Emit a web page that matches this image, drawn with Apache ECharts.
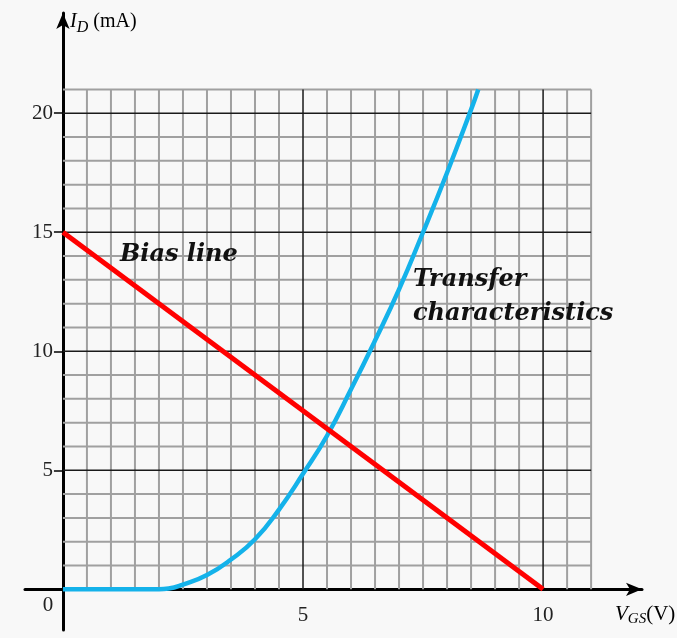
<!DOCTYPE html>
<html>
<head>
<meta charset="utf-8">
<script src="https://cdn.jsdelivr.net/npm/echarts@6/dist/echarts.min.js"></script>
<style>
html,body{margin:0;padding:0;background:#f8f8f8;}
#c{width:677px;height:638px;}
</style>
</head>
<body>
<div id="c"></div>
<script>
// ---- data ----
const transferX = [0, 1, 2, 2.2, 2.5, 3, 3.5, 4, 4.5, 5, 5.5, 6, 6.5, 7, 7.5, 8, 8.5, 8.65];
const transferY = [0, 0, 0, 0.03, 0.2, 0.6, 1.25, 2.1, 3.35, 4.85, 6.45, 8.4, 10.45, 12.6, 15.0, 17.5, 20.15, 21.0];
const biasX = [0, 10];
const biasY = [15, 0];
const xTickLabels = [5, 10];
const yTickLabels = [5, 10, 15, 20];
const originLabel = '0';
const gridMinorX = [0.5, 1, 1.5, 2, 2.5, 3, 3.5, 4, 4.5, 5.5, 6, 6.5, 7, 7.5, 8, 8.5, 9, 9.5, 10.5, 11];
const gridMinorY = [1, 2, 3, 4, 6, 7, 8, 9, 11, 12, 13, 14, 16, 17, 18, 19, 21];
const gridMajorX = [5, 10];
const gridMajorY = [5, 10, 15, 20];
const gridXMax = 11;
const gridYMax = 21;

const gridLines = [];
gridMinorX.forEach(v => gridLines.push([v, 0, v, gridYMax, 0]));
gridMinorY.forEach(v => gridLines.push([0, v, gridXMax, v, 0]));
gridMajorX.forEach(v => gridLines.push([v, 0, v, gridYMax, 1]));
gridMajorY.forEach(v => gridLines.push([0, v, gridXMax, v, 1]));

// tick label items: [x, y, kind] kind 0 = x-axis label, 1 = y-axis label, 2 = origin
const tickItems = [];
xTickLabels.forEach(v => tickItems.push([v, 0, 0, String(v)]));
yTickLabels.forEach(v => tickItems.push([0, v, 1, String(v)]));
tickItems.push([0, 0, 2, originLabel]);

const chart = echarts.init(document.getElementById('c'));
const serif = 'Liberation Serif';
const tickFont = '21px "Liberation Serif"';
const annFont = 'italic bold 24px "DejaVu Serif"';
const option = {
  backgroundColor: '#f8f8f8',
  animation: false,
  grid: {left: 25, right: 35, top: 13, bottom: 8, containLabel: false, outerBoundsMode: 'none'},
  xAxis: {
    type: 'value', min: -0.79, max: 12.06,
    axisLine: {onZero: true, symbol: ['none', 'arrow'], symbolSize: [10, 16], lineStyle: {color: '#000', width: 3}},
    axisTick: {show: false},
    splitLine: {show: false},
    axisLabel: {show: false}
  },
  yAxis: {
    type: 'value', min: -1.71, max: 24.21,
    axisLine: {onZero: true, symbol: ['none', 'arrow'], symbolSize: [10, 16], lineStyle: {color: '#000', width: 3}},
    axisTick: {show: true, customValues: yTickLabels, length: 9, lineStyle: {color: '#000', width: 1.5}},
    splitLine: {show: false},
    axisLabel: {show: false}
  },
  series: [
    {
      type: 'custom', z: 1, silent: true, clip: false,
      data: gridLines,
      encode: {x: [0, 2], y: [1, 3]},
      renderItem: function (params, api) {
        const p1 = api.coord([api.value(0), api.value(1)]);
        const p2 = api.coord([api.value(2), api.value(3)]);
        const major = api.value(4) === 1;
        return {
          type: 'line',
          shape: {x1: p1[0], y1: p1[1], x2: p2[0], y2: p2[1]},
          style: {stroke: major ? '#1a1a1a' : '#a0a0a0', lineWidth: major ? 1.5 : 2}
        };
      }
    },
    {
      type: 'custom', z: 5, silent: true, clip: false,
      data: tickItems,
      encode: {x: 0, y: 1},
      renderItem: function (params, api) {
        const p = api.coord([api.value(0), api.value(1)]);
        const kind = api.value(2);
        const txt = tickItems[params.dataIndex][3];
        let x = p[0], y = p[1], align = 'center';
        if (kind === 0) { y = p[1] + 26; }
        else if (kind === 1) { x = p[0] - 10; align = 'right'; }
        else { x = p[0] - 15; y = p[1] + 16; }
        return {
          type: 'text', x: x, y: y,
          style: {text: txt, font: tickFont, fill: '#222', align: align, verticalAlign: 'middle'}
        };
      }
    },
    {
      type: 'line', z: 3, name: 'Transfer characteristics',
      data: transferX.map((x, i) => [x, transferY[i]]),
      smooth: 0.5,
      showSymbol: false, symbol: 'none',
      lineStyle: {color: '#14b2ea', width: 4.5}
    },
    {
      type: 'line', z: 4, name: 'Bias line',
      data: biasX.map((x, i) => [x, biasY[i]]),
      showSymbol: false, symbol: 'none',
      lineStyle: {color: '#ff0000', width: 5}
    }
  ],
  graphic: [
    {type: 'text', left: 120, top: 243, z: 10, style: {text: 'Bias line', font: annFont, fill: '#111', lineWidth: 0}},
    {type: 'text', left: 413, top: 268, z: 10, style: {text: 'Transfer', font: annFont, fill: '#111', lineWidth: 0}},
    {type: 'text', left: 413, top: 302, z: 10, style: {text: 'characteristics', font: annFont, fill: '#111', lineWidth: 0}},
    {type: 'text', left: 70, top: 12, style: {
      text: '{i|I}{s|D}{n| (mA)}',
      rich: {
        i: {fontFamily: serif, fontStyle: 'italic', fontSize: 20, color: '#222'},
        s: {fontFamily: serif, fontStyle: 'italic', fontSize: 16, color: '#222', padding: [12, 0, 0, 0]},
        n: {fontFamily: serif, fontSize: 20, color: '#222'}
      }
    }},
    {type: 'text', left: 615, top: 604, style: {
      text: '{i|V}{s|GS}{n|(V)}',
      rich: {
        i: {fontFamily: serif, fontStyle: 'italic', fontSize: 21, color: '#222'},
        s: {fontFamily: serif, fontStyle: 'italic', fontSize: 15, color: '#222', padding: [10, 0, 0, 0]},
        n: {fontFamily: serif, fontSize: 21, color: '#222'}
      }
    }}
  ]
};
chart.setOption(option);
</script>
</body>
</html>
